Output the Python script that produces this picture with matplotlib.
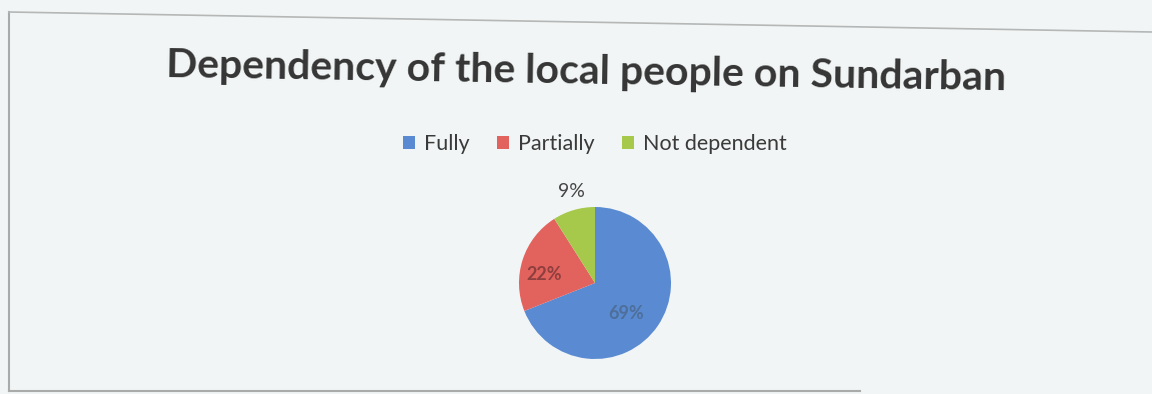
import matplotlib
matplotlib.use("Agg")
import matplotlib.pyplot as plt
from matplotlib.patches import Patch
import numpy as np

title = "Dependency of the local people on Sundarban"
categories = ["Fully", "Partially", "Not dependent"]
shares = [69, 22, 9]
colors = ["#5a8bd2", "#e2625e", "#a6c94c"]
label_colors = ["#4d6f9a", "#8f3f3d", "#444444"]

plt.rcParams["font.family"] = ["Lato", "DejaVu Sans"]

fig = plt.figure(figsize=(11.52, 3.94), dpi=100)
fig.patch.set_facecolor("#f2f5f5")

# chart frame
fig.add_artist(plt.Line2D([9 / 1152, 9 / 1152], [1 - 391 / 394, 1 - 12 / 394],
                          color="#a9abab", lw=1.5, transform=fig.transFigure))
fig.add_artist(plt.Line2D([9 / 1152, 1.0], [1 - 12 / 394, 1 - 32 / 394],
                          color="#b5b7b7", lw=1.2, transform=fig.transFigure))
fig.add_artist(plt.Line2D([9 / 1152, 860 / 1152], [1 - 391 / 394, 1 - 391 / 394],
                          color="#a9abab", lw=1.5, transform=fig.transFigure))

fig.text(586 / 1152, 1 - 84 / 394, title, ha="center", va="baseline",
         rotation=-0.9, rotation_mode="anchor",
         fontsize=29.5, fontweight="bold", color="#353535")

handles = [Patch(facecolor=c, edgecolor="none") for c in colors]
fig.legend(handles, categories, loc="center", bbox_to_anchor=(595 / 1152, 1 - 144 / 394),
           ncol=3, frameon=False, fontsize=15.5, handlelength=0.55, handleheight=0.55,
           handletextpad=0.4, columnspacing=1.3, labelcolor="#3a3a3a")

ax = fig.add_axes([(595 - 76) / 1152, (394 - 283 - 76) / 394, 152 / 1152, 152 / 394])
wedges, _ = ax.pie(shares, colors=colors, startangle=90, counterclock=False,
                   wedgeprops=dict(linewidth=0))
ax.set_xlim(-1, 1)
ax.set_ylim(-1, 1)
ax.set_aspect("equal")

# label radius and angle offset per slice
label_pos = [(0.58, -10), (0.68, 9), (1.24, -2)]
for w, val, tc, (r, da) in zip(wedges, shares, label_colors, label_pos):
    ang = np.deg2rad((w.theta1 + w.theta2) / 2 + da)
    ax.text(r * np.cos(ang), r * np.sin(ang), f"{val}%", ha="center", va="center",
            fontsize=14 if r > 1 else 13, fontweight="normal" if r > 1 else "bold",
            color=tc, clip_on=False)

fig.savefig("out.png", dpi=100, facecolor=fig.get_facecolor())
